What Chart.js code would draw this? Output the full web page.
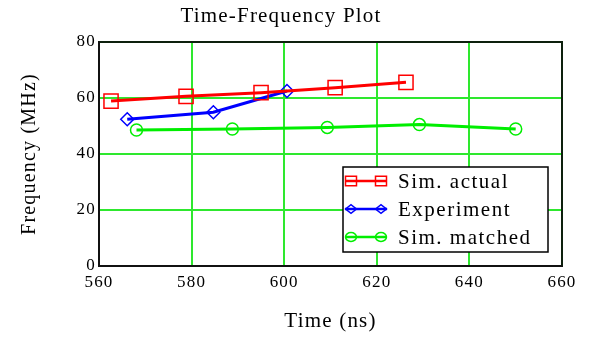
<!DOCTYPE html>
<html>
<head>
<meta charset="utf-8">
<script src="https://cdn.jsdelivr.net/npm/chart.js@4/dist/chart.umd.min.js"></script>
<style>
  html, body { margin: 0; padding: 0; background: #fff; }
  #wrap { width: 602px; height: 338px; }
</style>
</head>
<body>
<div id="wrap"><canvas id="freqChart" width="602" height="338"></canvas></div>
<script>
// Values
const simActualTime = [562.6, 578.8, 595.0, 611.0, 626.3];
const simActualFreq = [58.9, 60.6, 61.9, 63.7, 65.6];
const experimentTime = [566.1, 584.7, 600.6];
const experimentFreq = [52.4, 54.9, 62.5];
const simMatchedTime = [568.1, 588.8, 609.3, 629.2, 650.0];
const simMatchedFreq = [48.6, 48.9, 49.5, 50.5, 48.9];
const xTicks = [560, 580, 600, 620, 640, 660];
const yTicks = [0, 20, 40, 60, 80];
const seriesNames = ['Sim. actual', 'Experiment', 'Sim. matched'];

const serif = '"Liberation Serif", "Times New Roman", serif';

function toPoints(xs, ys) {
    return xs.map((x, i) => ({ x: x, y: ys[i] }));
}

// Stretched text like the original
const spacingPlugin = {
    id: 'spacing',
    beforeUpdate(chart) { chart.ctx.letterSpacing = '1.2px'; },
    beforeDraw(chart) { chart.ctx.letterSpacing = '1.2px'; }
};

// Dark frame around the plot area
const framePlugin = {
    id: 'frame',
    beforeDatasetsDraw(chart) {
        const a = chart.chartArea;
        const ctx = chart.ctx;
        ctx.save();
        ctx.strokeStyle = '#0d200d';
        ctx.lineWidth = 2;
        ctx.beginPath();
        ctx.moveTo(a.left, a.top);
        ctx.lineTo(a.right, a.top);
        ctx.lineTo(a.right, a.bottom);
        ctx.stroke();
        ctx.strokeStyle = '#111';
        ctx.beginPath();
        ctx.moveTo(a.left, a.top);
        ctx.lineTo(a.left, a.bottom);
        ctx.lineTo(a.right, a.bottom);
        ctx.stroke();
        ctx.restore();
    }
};

function marker(ctx, style, x, y, r) {
    ctx.beginPath();
    if (style === 'rect') {
        ctx.rect(x - r, y - r * 0.85, 2 * r, 1.7 * r);
    } else if (style === 'rectRot') {
        ctx.moveTo(x - r, y);
        ctx.lineTo(x, y - r * 0.8);
        ctx.lineTo(x + r, y);
        ctx.lineTo(x, y + r * 0.8);
        ctx.closePath();
    } else {
        ctx.ellipse(x, y, r, r * 0.8, 0, 0, Math.PI * 2);
    }
    ctx.stroke();
}

// Boxed legend inside the plot, lower right
const boxLegend = {
    id: 'boxLegend',
    afterDraw(chart) {
        const ctx = chart.ctx;
        const left = 343, top = 167, w = 205, h = 85;
        ctx.save();
        ctx.fillStyle = '#fff';
        ctx.fillRect(left, top, w, h);
        ctx.strokeStyle = '#000';
        ctx.lineWidth = 1.5;
        ctx.strokeRect(left, top, w, h);
        chart.data.datasets.forEach((ds, i) => {
            const y = 181 + i * 28;
            ctx.strokeStyle = ds.borderColor;
            ctx.lineWidth = 2.5;
            ctx.beginPath();
            ctx.moveTo(345, y);
            ctx.lineTo(387, y);
            ctx.stroke();
            ctx.lineWidth = 1.5;
            marker(ctx, ds.pointStyle, 351, y, 5.5);
            marker(ctx, ds.pointStyle, 381, y, 5.5);
            ctx.fillStyle = '#000';
            ctx.font = '21px ' + serif;
            ctx.letterSpacing = '1.5px';
            ctx.textAlign = 'left';
            ctx.textBaseline = 'middle';
            ctx.fillText(ds.label, 398, y + 1);
        });
        ctx.restore();
    }
};

document.addEventListener('DOMContentLoaded', function() {
    const ctx = document.getElementById('freqChart').getContext('2d');
    new Chart(ctx, {
        type: 'line',
        data: {
            datasets: [{
                label: seriesNames[0],
                data: toPoints(simActualTime, simActualFreq),
                borderColor: '#ff0000',
                backgroundColor: 'rgba(0,0,0,0)',
                borderWidth: 3,
                pointStyle: 'rect',
                pointRadius: 10,
                pointBorderWidth: 1.5,
                tension: 0
            }, {
                label: seriesNames[1],
                data: toPoints(experimentTime, experimentFreq),
                borderColor: '#0000ff',
                backgroundColor: 'rgba(0,0,0,0)',
                borderWidth: 3,
                pointStyle: 'rectRot',
                pointRadius: 6.5,
                pointBorderWidth: 1.5,
                tension: 0
            }, {
                label: seriesNames[2],
                data: toPoints(simMatchedTime, simMatchedFreq),
                borderColor: '#00ee00',
                backgroundColor: 'rgba(0,0,0,0)',
                borderWidth: 3,
                pointStyle: 'circle',
                pointRadius: 6,
                pointBorderWidth: 1.5,
                tension: 0
            }]
        },
        options: {
            responsive: false,
            animation: false,
            layout: { padding: { left: 0, right: 40, top: 0, bottom: 0 } },
            plugins: {
                legend: { display: false },
                tooltip: { enabled: false },
                title: {
                    display: true,
                    text: 'Time-Frequency Plot',
                    color: '#000',
                    font: { family: serif, size: 21, weight: 'normal' },
                    padding: { top: 4, bottom: 12.8 }
                }
            },
            scales: {
                x: {
                    type: 'linear',
                    min: xTicks[0],
                    max: xTicks[xTicks.length - 1],
                    afterBuildTicks: s => { s.ticks = xTicks.map(v => ({ value: v })); },
                    afterFit: s => { s.height = 72; },
                    grid: { color: '#2ee82e', lineWidth: 2, drawTicks: false },
                    border: { color: '#111', width: 2 },
                    ticks: {
                        color: '#000',
                        padding: 6,
                        maxRotation: 0,
                        font: { family: serif, size: 17 }
                    },
                    title: {
                        display: true,
                        text: 'Time (ns)',
                        color: '#000',
                        font: { family: serif, size: 21 },
                        padding: { top: 0, bottom: 4 }
                    }
                },
                y: {
                    min: yTicks[0],
                    max: yTicks[yTicks.length - 1],
                    afterBuildTicks: s => { s.ticks = yTicks.map(v => ({ value: v })); },
                    afterFit: s => { s.width = 99; },
                    grid: { color: '#2ee82e', lineWidth: 2, drawTicks: false },
                    border: { color: '#111', width: 2 },
                    ticks: {
                        color: '#000',
                        padding: 3,
                        font: { family: serif, size: 17 }
                    },
                    title: {
                        display: true,
                        text: 'Frequency (MHz)',
                        color: '#000',
                        font: { family: serif, size: 20 },
                        padding: { top: 18, bottom: 0 }
                    }
                }
            }
        },
        plugins: [spacingPlugin, framePlugin, boxLegend]
    });
});
</script>
</body>
</html>
